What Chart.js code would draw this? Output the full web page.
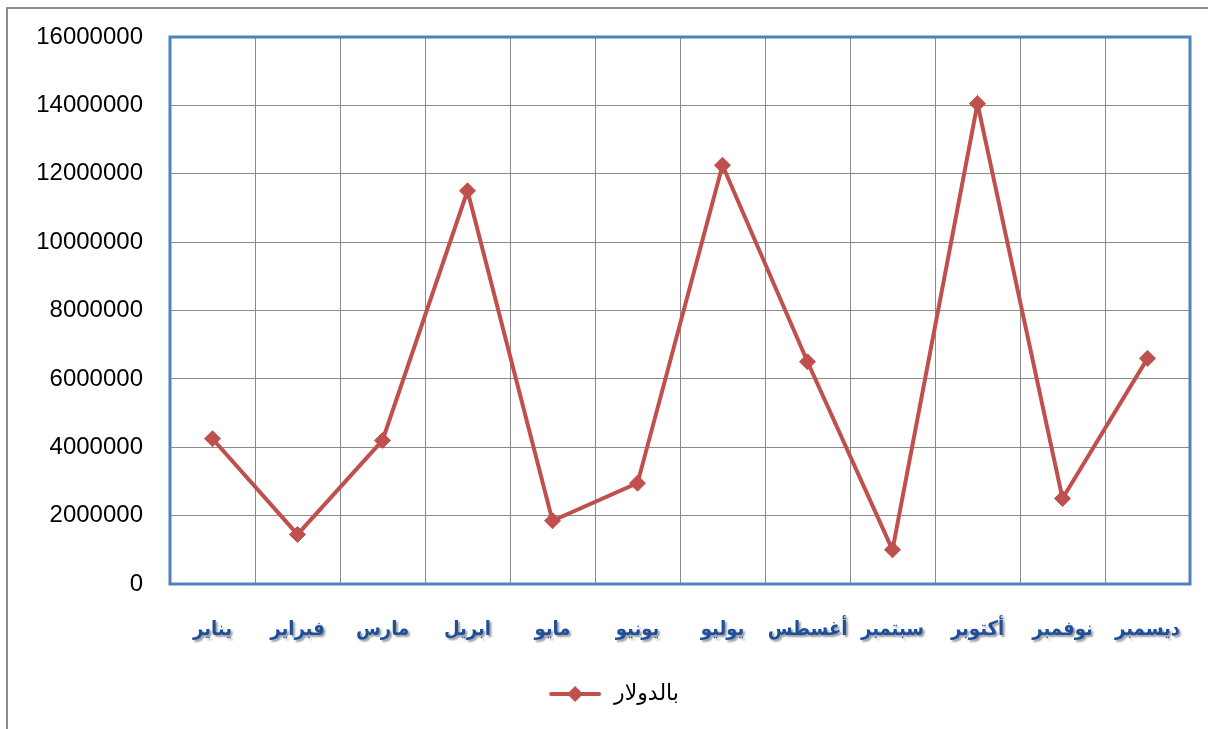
<!DOCTYPE html>
<html lang="ar">
<head>
  <meta charset="UTF-8" />
  <title>بالدولار</title>
  <style>
    body {
      margin: 0;
      background: #ffffff;
      overflow: hidden;
    }
    .frame {
      position: absolute;
      left: 6px;
      top: 7px;
      width: 1400px;
      height: 900px;
      border-left: 2px solid #8c8c8c;
      border-top: 2px solid #8c8c8c;
    }
    #chart {
      position: absolute;
      left: 0;
      top: 0;
    }
  </style>
</head>
<body>
  <div class="frame"></div>
  <canvas id="chart" width="1208" height="729"></canvas>

  <script src="https://cdn.jsdelivr.net/npm/chart.js"></script>
  <script>
    // months (x categories)
    const months = ["يناير", "فبراير", "مارس", "ابريل", "مايو", "يونيو",
                    "يوليو", "أغسطس", "سبتمبر", "أكتوبر", "نوفمبر", "ديسمبر"];
    // values in dollars
    const dollars = [4250000, 1450000, 4200000, 11500000, 1850000, 2950000,
                     12250000, 6500000, 1000000, 14050000, 2500000, 6600000];
    const seriesName = "بالدولار";
    const yMax = 16000000;
    const yStep = 2000000;

    const lineColor = "#C0504D";

    // legend marker: short line with a diamond in the middle
    function legendMarker() {
      const c = document.createElement("canvas");
      c.width = 54;
      c.height = 20;
      const g = c.getContext("2d");
      g.strokeStyle = lineColor;
      g.lineWidth = 4;
      g.lineCap = "round";
      g.beginPath();
      g.moveTo(3, 10);
      g.lineTo(51, 10);
      g.stroke();
      g.fillStyle = lineColor;
      g.beginPath();
      g.moveTo(27, 2);
      g.lineTo(35, 10);
      g.lineTo(27, 18);
      g.lineTo(19, 10);
      g.closePath();
      g.fill();
      return c;
    }

    // blue frame around the plot area
    const plotFrame = {
      id: "plotFrame",
      beforeDatasetsDraw(chart) {
        const a = chart.chartArea;
        const ctx = chart.ctx;
        ctx.save();
        ctx.strokeStyle = "#4F81BD";
        ctx.lineWidth = 3;
        ctx.strokeRect(a.left, a.top, a.right - a.left, a.bottom - a.top);
        ctx.restore();
      }
    };

    // shadow under the month labels
    const labelShadow = {
      id: "labelShadow",
      afterLayout(chart) {
        const sc = chart.scales.x;
        if (sc._shadowWrapped) return;
        const orig = sc.drawLabels;
        sc.drawLabels = function (area) {
          const ctx = this.ctx;
          ctx.save();
          ctx.shadowColor = "rgba(0,0,0,0.4)";
          ctx.shadowOffsetX = 2;
          ctx.shadowOffsetY = 2;
          ctx.shadowBlur = 2;
          orig.call(this, area);
          ctx.restore();
        };
        sc._shadowWrapped = true;
      }
    };

    function noPad(scale) {
      scale.paddingLeft = 0;
      scale.paddingRight = 0;
      scale.paddingTop = 0;
      scale.paddingBottom = 0;
    }

    new Chart(document.getElementById("chart").getContext("2d"), {
      type: "line",
      data: {
        labels: months,
        datasets: [{
          label: seriesName,
          data: dollars,
          borderColor: lineColor,
          backgroundColor: lineColor,
          borderWidth: 4,
          pointStyle: "rectRot",
          pointRadius: 8,
          pointBorderWidth: 1,
          pointBackgroundColor: lineColor,
          pointBorderColor: lineColor,
          tension: 0
        }]
      },
      options: {
        responsive: false,
        animation: false,
        layout: {
          padding: { top: 37, right: 18, bottom: 14, left: 36 }
        },
        scales: {
          x: {
            offset: true,
            grid: { offset: true, color: "#8a8a8a", lineWidth: 1, drawTicks: false },
            border: { display: false },
            ticks: {
              autoSkip: false,
              padding: 34,
              color: "#1F4E9A",
              font: { family: "'DejaVu Sans Condensed', 'DejaVu Sans'", size: 20, weight: "bold" },
              maxRotation: 0
            },
            afterFit(scale) { scale.height = 89; noPad(scale); }
          },
          y: {
            min: 0,
            max: yMax,
            grid: { color: "#8a8a8a", lineWidth: 1, drawTicks: false },
            border: { display: false },
            ticks: {
              stepSize: yStep,
              padding: 27,
              color: "#000000",
              font: { family: "Liberation Sans", size: 24 },
              callback: v => String(v)
            },
            afterFit(scale) { scale.width = 134; noPad(scale); }
          }
        },
        plugins: {
          legend: {
            position: "bottom",
            labels: {
              usePointStyle: true,
              pointStyleWidth: 56,
              padding: 10,
              color: "#000000",
              font: { family: "DejaVu Sans", size: 22 },
              generateLabels(chart) {
                return [{
                  text: seriesName,
                  pointStyle: legendMarker(),
                  fillStyle: lineColor,
                  strokeStyle: lineColor,
                  lineWidth: 0,
                  datasetIndex: 0
                }];
              }
            }
          },
          tooltip: { enabled: false }
        }
      },
      plugins: [plotFrame, labelShadow]
    });
  </script>
</body>
</html>
